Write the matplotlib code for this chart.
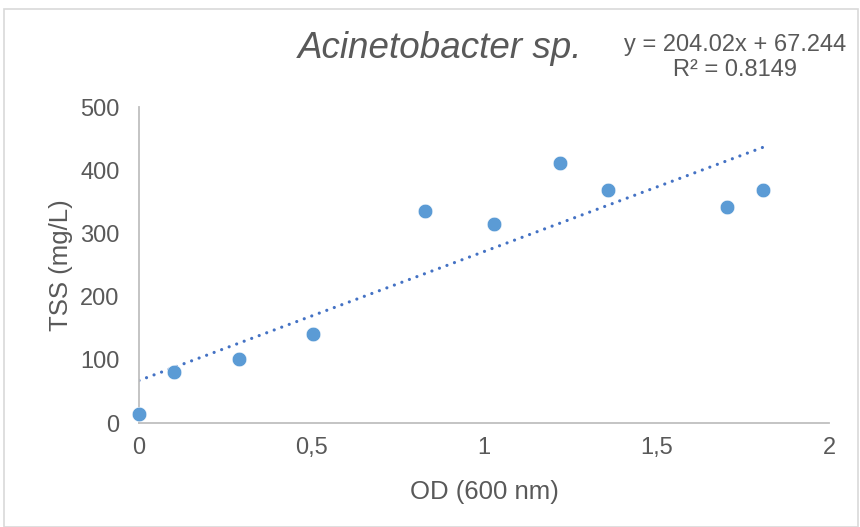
import matplotlib.pyplot as plt
import numpy as np
from matplotlib.patches import Rectangle

plt.rcParams['font.family'] = ['Liberation Sans', 'DejaVu Sans']

# OD vs TSS measurements
od = [0.0, 0.10, 0.29, 0.505, 0.83, 1.03, 1.22, 1.36, 1.705, 1.81]
tss = [14, 81, 101, 141, 335, 315, 411, 369, 342, 369]

# linear trendline reported on the chart
slope = 204.02
intercept = 67.244
r2 = 0.8149

x_ticks = [0, 0.5, 1, 1.5, 2]
x_labels = ['0', '0,5', '1', '1,5', '2']
y_ticks = [0, 100, 200, 300, 400, 500]

txt = '#595959'
axis_col = '#bfbfbf'

fig = plt.figure(figsize=(8.6, 5.27), dpi=100)
ax = fig.add_axes([139 / 860, 1 - 423 / 527, 690 / 860, 316 / 527])

ax.plot(od, tss, 'o', color='#5b9bd5', markersize=10.5, markeredgecolor='white',
        markeredgewidth=0.4, zorder=3, clip_on=False)

xl = np.array([min(od), max(od)])
ax.plot(xl, slope * xl + intercept, linestyle=(0, (0.01, 2.5)), color='#4472c4',
        linewidth=2.3, dash_capstyle='round', zorder=2)

ax.set_xlim(0, 2)
ax.set_ylim(0, 500)
ax.set_xticks(x_ticks)
ax.set_xticklabels(x_labels)
ax.set_yticks(y_ticks)
ax.tick_params(length=0, labelsize=17, colors=txt)
ax.tick_params(axis='x', pad=10)
ax.tick_params(axis='y', pad=14)

for s in ['top', 'right']:
    ax.spines[s].set_visible(False)
for s in ['left', 'bottom']:
    ax.spines[s].set_color(axis_col)
    ax.spines[s].set_linewidth(1.3)

ax.set_xlabel('OD (600 nm)', fontsize=18.5, color=txt, labelpad=15)
ax.set_ylabel('TSS (mg/L)', fontsize=18.5, color=txt, labelpad=5)

fig.text(440 / 860, 1 - 48 / 527, 'Acinetobacter sp.', fontsize=26.5, style='italic',
         color=txt, ha='center', va='center')
fig.text(735 / 860, 1 - 45 / 527, f'y = {slope}x + {intercept}', fontsize=17,
         color=txt, ha='center', va='center')
fig.text(735 / 860, 1 - 70 / 527, f'R² = {r2}', fontsize=17,
         color=txt, ha='center', va='center')

# outer chart frame
fig.patches.append(Rectangle((4 / 860, 0), 854 / 860, 1 - 9 / 527,
                             transform=fig.transFigure, fill=False,
                             edgecolor='#d9d9d9', linewidth=1.2))

fig.savefig('out.png', dpi=100)
